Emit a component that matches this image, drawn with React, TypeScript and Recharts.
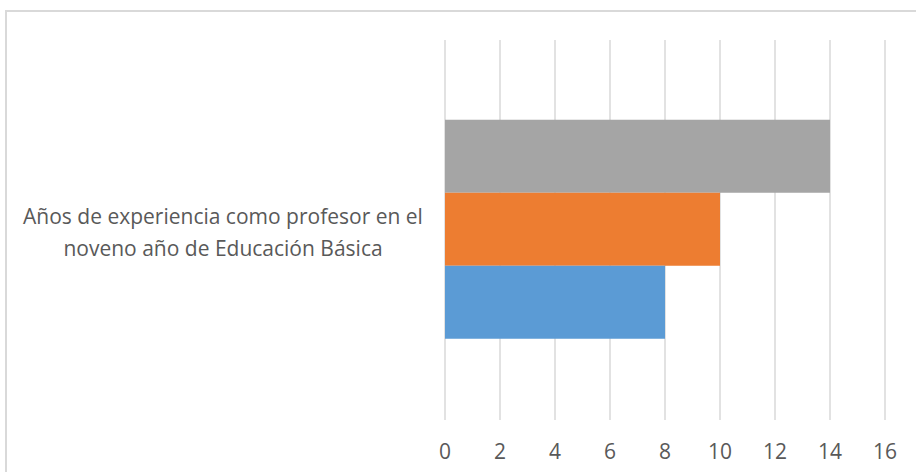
import { BarChart, Bar, XAxis, YAxis, CartesianGrid } from 'recharts';

// Una sola categoría, tres series (de arriba hacia abajo: gris, naranja, azul)
const CATEGORIES = ['Años de experiencia como profesor en el noveno año de Educación Básica'];
const CATEGORY_LINES = [['Años de experiencia como profesor en el', 'noveno año de Educación Básica']];
const SERIES_GRAY = [14];
const SERIES_ORANGE = [10];
const SERIES_BLUE = [8];
const X_TICKS = [0, 2, 4, 6, 8, 10, 12, 14, 16];

const FONT = '"Open Sans", "Noto Sans", sans-serif';
const TEXT_COLOR = '#595959';
const LINE_H = 32;

const data = CATEGORIES.map((name, i) => ({
  name,
  gray: SERIES_GRAY[i],
  orange: SERIES_ORANGE[i],
  blue: SERIES_BLUE[i],
}));

const CategoryTick = ({ y, index }: { y?: number; index?: number }) => {
  const lines = CATEGORY_LINES[index ?? 0] ?? [];
  const top = (y ?? 0) + 2 - ((lines.length - 1) * LINE_H) / 2;
  return (
    <text x={223} y={top} textAnchor="middle" dominantBaseline="central"
      fill={TEXT_COLOR} style={{ fontFamily: FONT, fontSize: 21 }}>
      {lines.map((l, i) => (
        <tspan key={i} x={223} y={top + i * LINE_H}>{l}</tspan>
      ))}
    </text>
  );
};

export default function App() {
  return (
    <div style={{ position: 'absolute', left: 0, top: 0, width: 916, height: 472, overflow: 'hidden', background: '#fff' }}>
      <div
        style={{
          position: 'absolute', left: 5, top: 10, width: 960, height: 520,
          border: '2px solid #d9d9d9', boxSizing: 'border-box',
        }}
      />
      <div style={{ position: 'absolute', left: 0, top: 0 }}>
        <BarChart
          width={916}
          height={472}
          data={data}
          layout="vertical"
          margin={{ top: 40, right: 31, bottom: 0, left: 0 }}
          barCategoryGap="21%"
          barGap={0}
        >
          <CartesianGrid horizontal={false} stroke="#d9d9d9" strokeWidth={1.5} />
          <XAxis
            type="number"
            domain={[0, 16]}
            ticks={X_TICKS}
            interval={0}
            height={52}
            axisLine={false}
            tickLine={false}
            tickMargin={18}
            tick={{ fill: TEXT_COLOR, fontSize: 21, fontFamily: FONT }}
          />
          <YAxis
            type="category"
            dataKey="name"
            width={445}
            axisLine={false}
            tickLine={false}
            tick={<CategoryTick />}
          />
          <Bar dataKey="gray" fill="#A5A5A5" isAnimationActive={false} />
          <Bar dataKey="orange" fill="#ED7D31" isAnimationActive={false} />
          <Bar dataKey="blue" fill="#5B9BD5" isAnimationActive={false} />
        </BarChart>
      </div>
    </div>
  );
}
